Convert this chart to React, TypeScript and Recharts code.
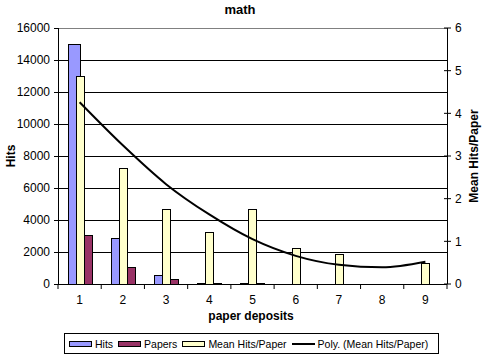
import React from "react";
import {
  Bar,
  CartesianGrid,
  ComposedChart,
  Legend,
  Line,
  ReferenceLine,
  XAxis,
  YAxis,
} from "recharts";

// values
const categories = ["1", "2", "3", "4", "5", "6", "7", "8", "9"];
const hits = [15000, 2850, 550, 40, 25, null, null, null, null];
const papers = [3050, 1050, 300, 40, 8, null, null, null, null];
const meanHitsPerPaper = [4.87, 2.71, 1.75, 1.21, 1.75, 0.84, 0.7, null, 0.49];
const polyTrend = [4.26, 3.25, 2.34, 1.63, 1.05, 0.66, 0.45, 0.39, 0.52];

const leftTicks = [0, 2000, 4000, 6000, 8000, 10000, 12000, 14000, 16000];
const rightTicks = [0, 1, 2, 3, 4, 5, 6];

const FONT = '"Liberation Sans", Arial, sans-serif';
const WIDTH = 483;
const HEIGHT = 358;
const MARGIN = { top: 28, right: 0, bottom: 0, left: 0 };
const LEFT_AXIS_W = 58;
const RIGHT_AXIS_W = 36;
const X_AXIS_H = 74;
const PLOT_W = WIDTH - LEFT_AXIS_W - RIGHT_AXIS_W;
const PLOT_H = HEIGHT - MARGIN.top - X_AXIS_H;

const COLORS = { hits: "#9999FF", papers: "#993366", mean: "#FFFFCC" };

const rows = categories.map((cat, i) => ({
  cat,
  hits: hits[i],
  papers: papers[i],
  mean: meanHitsPerPaper[i],
  poly: polyTrend[i],
}));

const legendItems = [
  { name: "Hits", color: COLORS.hits, kind: "box" },
  { name: "Papers", color: COLORS.papers, kind: "box" },
  { name: "Mean Hits/Paper", color: COLORS.mean, kind: "box" },
  { name: "Poly. (Mean Hits/Paper)", color: "#000", kind: "line" },
];

const crisp = `
  .recharts-cartesian-grid line,
  .recharts-cartesian-axis line,
  .recharts-reference-line line,
  .recharts-bar-rectangle rect,
  .recharts-bar-rectangle path { shape-rendering: crispEdges; }
`;

// Excel draws the Hits column a bit wider, partly hidden behind the next column
function WideBar(props: any) {
  const { x, y, width, height, fill } = props;
  if (!height) return <g />;
  return <rect x={x} y={y} width={width + 4} height={height} fill={fill} stroke="#000" />;
}

function XTick(props: any) {
  const { x, y, payload, index } = props;
  const band = PLOT_W / categories.length;
  const axisY = y - 11;
  return (
    <g>
      <line x1={x - band / 2} x2={x - band / 2} y1={axisY} y2={axisY + 5} stroke="#000" />
      {index === categories.length - 1 && (
        <line x1={x + band / 2} x2={x + band / 2} y1={axisY} y2={axisY + 5} stroke="#000" />
      )}
      <text x={x} y={axisY + 20} textAnchor="middle" fontSize={12} fill="#000" fontFamily={FONT}>
        {payload.value}
      </text>
    </g>
  );
}

function RightTick(props: any) {
  const { x, y, payload } = props;
  const axisX = x - 8;
  return (
    <g>
      <line x1={axisX - 3} x2={axisX + 4} y1={y} y2={y} stroke="#000" />
      <text x={x} y={y} dy="0.35em" textAnchor="start" fontSize={12} fill="#000" fontFamily={FONT}>
        {payload.value}
      </text>
    </g>
  );
}

function LegendBox() {
  return (
    <div
      style={{
        boxSizing: "border-box",
        width: 375,
        height: 21,
        border: "1px solid #000",
        background: "#fff",
        display: "flex",
        alignItems: "center",
        paddingLeft: 4,
        gap: 5,
        fontFamily: FONT,
        fontSize: 10.5,
        color: "#000",
        whiteSpace: "nowrap",
      }}
    >
      {legendItems.map((item) => (
        <div key={item.name} style={{ display: "flex", alignItems: "center", gap: 3 }}>
          {item.kind === "box" ? (
            <span
              style={{
                display: "inline-block",
                boxSizing: "border-box",
                width: 23,
                height: 6,
                background: item.color,
                border: "1px solid #000",
              }}
            />
          ) : (
            <span style={{ display: "inline-block", width: 23, height: 2, background: item.color }} />
          )}
          <span>{item.name}</span>
        </div>
      ))}
    </div>
  );
}

export default function App() {
  const midY = MARGIN.top + PLOT_H / 2;
  return (
    <div
      style={{
        position: "absolute",
        left: 0,
        top: 0,
        width: WIDTH,
        height: HEIGHT,
        background: "#fff",
        fontFamily: FONT,
      }}
    >
      <style>{crisp}</style>
      <ComposedChart width={WIDTH} height={HEIGHT} data={rows} margin={MARGIN} barGap={0}>
        <CartesianGrid vertical={false} stroke="#000" />
        <ReferenceLine y={16000} stroke="#808080" />
        <XAxis
          dataKey="cat"
          height={X_AXIS_H}
          interval={0}
          tickLine={false}
          tickSize={5}
          tickMargin={6}
          axisLine={{ stroke: "#000" }}
          tick={<XTick />}
        />
        <YAxis
          width={LEFT_AXIS_W}
          domain={[0, 16000]}
          ticks={leftTicks}
          interval={0}
          tickSize={4}
          tickMargin={4}
          axisLine={{ stroke: "#000" }}
          tickLine={{ stroke: "#000" }}
          tick={{ fill: "#000", fontSize: 12, fontFamily: FONT }}
        />
        <YAxis
          yAxisId="right"
          orientation="right"
          width={RIGHT_AXIS_W}
          domain={[0, 6]}
          ticks={rightTicks}
          interval={0}
          tickSize={4}
          tickMargin={4}
          tickLine={false}
          axisLine={{ stroke: "#000" }}
          tick={<RightTick />}
        />
        <Bar dataKey="hits" name="Hits" fill={COLORS.hits} barSize={8} shape={<WideBar />} isAnimationActive={false} />
        <Bar
          dataKey="mean"
          name="Mean Hits/Paper"
          yAxisId="right"
          fill={COLORS.mean}
          stroke="#000"
          barSize={8}
          isAnimationActive={false}
        />
        <Bar dataKey="papers" name="Papers" fill={COLORS.papers} stroke="#000" barSize={8} isAnimationActive={false} />
        <Line
          yAxisId="right"
          dataKey="poly"
          name="Poly. (Mean Hits/Paper)"
          type="monotone"
          stroke="#000"
          strokeWidth={2}
          dot={false}
          activeDot={false}
          isAnimationActive={false}
        />
        <Legend
          verticalAlign="middle"
          align="center"
          content={<LegendBox />}
          wrapperStyle={{ left: 64, top: 333, width: 375, height: 21 }}
        />
        <text x={240} y={13.5} textAnchor="middle" fontSize={13} fontWeight="bold" fill="#000" fontFamily={FONT}>
          math
        </text>
        <text
          x={11}
          y={midY}
          dy="0.35em"
          textAnchor="middle"
          transform={`rotate(-90, 11, ${midY})`}
          fontSize={12}
          fontWeight="bold"
          fill="#000"
          fontFamily={FONT}
        >
          Hits
        </text>
        <text
          x={474}
          y={midY}
          dy="0.35em"
          textAnchor="middle"
          transform={`rotate(-90, 474, ${midY})`}
          fontSize={12}
          fontWeight="bold"
          fill="#000"
          fontFamily={FONT}
        >
          Mean Hits/Paper
        </text>
        <text x={251} y={320} textAnchor="middle" fontSize={12} fontWeight="bold" fill="#000" fontFamily={FONT}>
          paper deposits
        </text>
      </ComposedChart>
    </div>
  );
}
